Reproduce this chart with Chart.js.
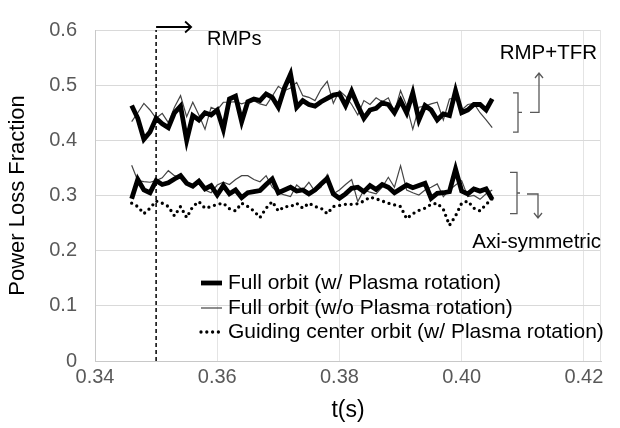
<!DOCTYPE html>
<html>
<head>
<meta charset="utf-8">
<script src="https://cdn.jsdelivr.net/npm/chart.js@4.4.1/dist/chart.umd.min.js"></script>
<style>
  html, body { margin: 0; padding: 0; background: #fff; }
</style>
</head>
<body>
<canvas id="lossChart" width="620" height="428"></canvas>
<script>
// sample times (s)
var times = [
  0.346, 0.347, 0.348, 0.349, 0.350, 0.351, 0.352, 0.353, 0.354, 0.355,
  0.356, 0.357, 0.358, 0.359, 0.360, 0.361, 0.362, 0.363, 0.364, 0.365,
  0.366, 0.367, 0.368, 0.369, 0.370, 0.371, 0.372, 0.373, 0.374, 0.375,
  0.376, 0.377, 0.378, 0.379, 0.380, 0.381, 0.382, 0.383, 0.384, 0.385,
  0.386, 0.387, 0.388, 0.389, 0.390, 0.391, 0.392, 0.393, 0.394, 0.395,
  0.396, 0.397, 0.398, 0.399, 0.400, 0.401, 0.402, 0.403, 0.404, 0.405
];

// RMP+TFR case
var fullRotUpper = [
  0.463, 0.440, 0.402, 0.415, 0.440, 0.430, 0.423, 0.450, 0.462, 0.400,
  0.445, 0.437, 0.450, 0.446, 0.455, 0.420, 0.475, 0.480, 0.434, 0.470,
  0.475, 0.472, 0.484, 0.478, 0.460, 0.495, 0.520, 0.460, 0.472, 0.465,
  0.462, 0.470, 0.476, 0.482, 0.484, 0.463, 0.489, 0.463, 0.440, 0.455,
  0.458, 0.468, 0.465, 0.450, 0.472, 0.450, 0.486, 0.437, 0.463, 0.455,
  0.437, 0.448, 0.445, 0.490, 0.450, 0.455, 0.465, 0.465, 0.455, 0.475
];
var fullNoRotUpper = [
  0.434, 0.450, 0.467, 0.455, 0.440, 0.449, 0.432, 0.460, 0.481, 0.443,
  0.469, 0.446, 0.420, 0.460, 0.455, 0.469, 0.469, 0.470, 0.466, 0.470,
  0.472, 0.466, 0.463, 0.480, 0.498, 0.490, 0.495, 0.505, 0.481, 0.478,
  0.472, 0.493, 0.507, 0.467, 0.490, 0.480, 0.465, 0.446, 0.472, 0.465,
  0.477, 0.470, 0.477, 0.451, 0.490, 0.463, 0.420, 0.460, 0.462, 0.466,
  0.469, 0.437, 0.475, 0.477, 0.455, 0.465, 0.467, 0.450, 0.437, 0.423
];

// axi-symmetric case
var fullRotLower = [
  0.294, 0.329, 0.310, 0.305, 0.327, 0.320, 0.323, 0.330, 0.336, 0.322,
  0.317, 0.326, 0.312, 0.318, 0.301, 0.318, 0.303, 0.310, 0.296, 0.305,
  0.307, 0.309, 0.320, 0.330, 0.305, 0.310, 0.315, 0.308, 0.310, 0.303,
  0.310, 0.321, 0.331, 0.303, 0.295, 0.303, 0.313, 0.315, 0.307, 0.318,
  0.311, 0.320, 0.315, 0.305, 0.312, 0.319, 0.314, 0.318, 0.322, 0.295,
  0.304, 0.305, 0.307, 0.348, 0.308, 0.303, 0.312, 0.308, 0.312, 0.293
];
var fullNoRotLower = [
  0.355, 0.327, 0.325, 0.324, 0.327, 0.332, 0.345, 0.336, 0.333, 0.322,
  0.319, 0.321, 0.310, 0.305, 0.319, 0.324, 0.320, 0.329, 0.336, 0.336,
  0.329, 0.325, 0.336, 0.315, 0.305, 0.301, 0.298, 0.319, 0.310, 0.324,
  0.307, 0.315, 0.338, 0.303, 0.310, 0.320, 0.329, 0.289, 0.310, 0.306,
  0.303, 0.315, 0.333, 0.315, 0.354, 0.310, 0.305, 0.301, 0.310, 0.315,
  0.321, 0.298, 0.310, 0.319, 0.327, 0.298, 0.300, 0.293, 0.303, 0.310
];
var guidingCenter = [
  0.286, 0.280, 0.267, 0.277, 0.290, 0.286, 0.280, 0.263, 0.280, 0.260,
  0.280, 0.289, 0.277, 0.280, 0.284, 0.286, 0.276, 0.272, 0.286, 0.280,
  0.272, 0.260, 0.277, 0.289, 0.272, 0.280, 0.280, 0.286, 0.277, 0.286,
  0.280, 0.277, 0.267, 0.280, 0.282, 0.284, 0.284, 0.285, 0.290, 0.297,
  0.294, 0.290, 0.286, 0.283, 0.280, 0.258, 0.267, 0.273, 0.277, 0.284,
  0.286, 0.275, 0.246, 0.263, 0.286, 0.290, 0.277, 0.272, 0.284, 0.294
];

var legendLabels = [
  "Full orbit (w/ Plasma rotation)",
  "Full orbit (w/o Plasma rotation)",
  "Guiding center orbit (w/ Plasma rotation)"
];
var xTicks = [0.34, 0.36, 0.38, 0.40, 0.42];
var rmpTime = 0.35;

function pts(arr) {
  return times.map(function (t, i) { return { x: t, y: arr[i] }; });
}

var thick = { borderColor: "#000", borderWidth: 4.8, pointRadius: 0 };
var thin = { borderColor: "#444", borderWidth: 1.2, pointRadius: 0 };
var dotted = { borderColor: "#000", borderWidth: 3.3, borderDash: [0, 5.8], borderCapStyle: "round", pointRadius: 0 };

var FONT = "Arial, 'Liberation Sans', sans-serif";
Chart.defaults.font.family = FONT;

// annotations: legend, RMPs arrow, brackets
var extras = {
  id: "extras",
  beforeDatasetsDraw: function (chart) {
    // faint right frame of the plot area
    var c = chart.ctx, a = chart.chartArea;
    c.save();
    c.strokeStyle = "#e4e4e4";
    c.lineWidth = 1;
    c.beginPath();
    c.moveTo(a.right - 0.5, a.top);
    c.lineTo(a.right - 0.5, a.bottom);
    c.stroke();
    c.restore();
  },
  afterDatasetsDraw: function (chart) {
    var c = chart.ctx, xs = chart.scales.x, ys = chart.scales.y;
    c.save();

    // legend
    var styles = [thick, thin, dotted];
    var rows = [283, 308, 332];
    c.font = "21px " + FONT;
    c.textBaseline = "middle";
    c.textAlign = "left";
    for (var i = 0; i < 3; i++) {
      var s = styles[i];
      c.beginPath();
      c.strokeStyle = s.borderColor;
      c.lineWidth = s.borderWidth;
      c.setLineDash(s.borderDash || []);
      c.lineCap = s.borderCapStyle || "butt";
      c.moveTo(201, rows[i]);
      c.lineTo(222, rows[i]);
      c.stroke();
      c.setLineDash([]);
      c.lineCap = "butt";
      c.fillStyle = "#000";
      c.fillText(legendLabels[i], 228, rows[i]);
    }

    // RMPs arrow
    var rx = xs.getPixelForValue(rmpTime);
    c.strokeStyle = "#000";
    c.lineWidth = 1.8;
    c.beginPath();
    c.moveTo(rx, 27); c.lineTo(rx + 35, 27);
    c.moveTo(rx + 29, 21.5); c.lineTo(rx + 35, 27); c.lineTo(rx + 29, 32.5);
    c.stroke();
    c.font = "20px " + FONT;
    c.fillStyle = "#000";
    c.fillText("RMPs", 207, 39);

    // brackets
    c.strokeStyle = "#595959";
    c.lineWidth = 1.3;
    var b1t = ys.getPixelForValue(0.486), b1b = ys.getPixelForValue(0.415);
    var b1m = (b1t + b1b) / 2;
    c.beginPath();
    c.moveTo(513, b1t); c.lineTo(518, b1t); c.lineTo(518, b1b); c.lineTo(513, b1b);
    c.moveTo(518, b1m); c.lineTo(522, b1m);
    c.moveTo(530, b1m); c.lineTo(539, b1m); c.lineTo(539, 73);
    c.moveTo(535, 78); c.lineTo(539, 73); c.lineTo(543, 78);
    c.stroke();

    var b2t = ys.getPixelForValue(0.342), b2b = ys.getPixelForValue(0.267);
    var b2m = (b2t + b2b) / 2;
    c.beginPath();
    c.moveTo(510, b2t); c.lineTo(517, b2t); c.lineTo(517, b2b); c.lineTo(510, b2b);
    c.moveTo(517, b2m); c.lineTo(520, b2m);
    c.moveTo(527, b2m + 1); c.lineTo(538, b2m + 1); c.lineTo(538, 218);
    c.moveTo(534, 213); c.lineTo(538, 218); c.lineTo(542, 213);
    c.stroke();

    c.font = "20.5px " + FONT;
    c.fillStyle = "#000";
    c.textAlign = "right";
    c.fillText("RMP+TFR", 597, 53);
    c.fillText("Axi-symmetric", 601, 242);
    c.restore();
  }
};

new Chart(document.getElementById("lossChart"), {
  type: "line",
  data: {
    datasets: [
      Object.assign({ label: legendLabels[0], data: pts(fullRotUpper), order: 1 }, thick),
      Object.assign({ label: legendLabels[0], data: pts(fullRotLower), order: 1 }, thick),
      Object.assign({ label: legendLabels[1], data: pts(fullNoRotUpper), order: 2 }, thin),
      Object.assign({ label: legendLabels[1], data: pts(fullNoRotLower), order: 2 }, thin),
      Object.assign({ label: legendLabels[2], data: pts(guidingCenter), order: 3 }, dotted),
      {
        label: "RMPs",
        data: [{ x: rmpTime, y: 0 }, { x: rmpTime, y: 0.6 }],
        borderColor: "#000",
        borderWidth: 1.5,
        borderDash: [4, 3],
        pointRadius: 0,
        order: 4
      }
    ]
  },
  options: {
    responsive: false,
    animation: false,
    layout: { padding: { top: 16, right: 19, left: 0, bottom: 0 } },
    plugins: { legend: { display: false }, tooltip: { enabled: false } },
    scales: {
      x: {
        type: "linear",
        min: 0.34,
        max: 0.4228,
        afterBuildTicks: function (s) { s.ticks = xTicks.map(function (v) { return { value: v }; }); },
        afterFit: function (s) { s.height = 67; },
        grid: { color: "#e4e4e4", drawTicks: false },
        border: { color: "#c8c8c8" },
        ticks: {
          padding: 4,
          color: "#595959",
          font: { size: 20 },
          maxRotation: 0,
          callback: function (v) { return v.toFixed(2); }
        },
        title: { display: true, text: "t(s)", color: "#000", font: { size: 23 }, padding: { top: 0, bottom: 4 } }
      },
      y: {
        min: 0,
        max: 0.6,
        afterFit: function (s) { s.width = 95; },
        grid: { color: "#d9d9d9", drawTicks: false },
        border: { color: "#c8c8c8" },
        ticks: {
          stepSize: 0.1,
          padding: 18,
          color: "#595959",
          font: { size: 20 },
          callback: function (v) { return v === 0 ? "0" : v.toFixed(1); }
        },
        title: { display: true, text: "Power Loss Fraction", color: "#000", font: { size: 22 }, padding: { top: 5, bottom: 0 } }
      }
    }
  },
  plugins: [extras]
});
</script>
</body>
</html>
